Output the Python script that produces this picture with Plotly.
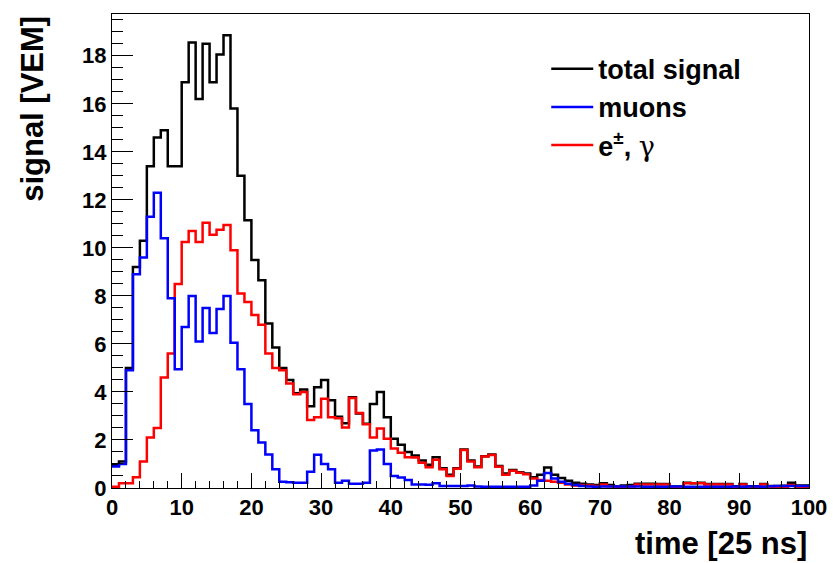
import numpy as np
import plotly.graph_objects as go

# time bins of 25 ns, 0..100
bin_edges = np.arange(0, 101)

total_signal = [
    0.95, 1.1, 5.0, 9.2, 10.3, 13.4, 14.6, 14.9, 13.4, 13.4,
    16.9, 18.55, 16.2, 18.5, 16.9, 18.05, 18.85, 15.8, 13.0, 11.15,
    9.5, 8.65, 6.85, 5.85, 5.0, 4.5, 3.95, 4.1, 3.4, 4.2,
    4.5, 3.65, 2.97, 2.7, 3.78, 3.1, 2.68, 3.5, 4.0, 2.95,
    2.05, 1.8, 1.5, 1.35, 1.15, 0.97, 1.28, 0.82, 0.55, 0.82,
    1.6, 1.15, 0.9, 1.32, 1.4, 0.92, 0.6, 0.75, 0.66, 0.6,
    0.45, 0.55, 0.85, 0.55, 0.42, 0.3, 0.22, 0.18, 0.15, 0.12,
    0.2, 0.12, 0.06, 0.1, 0.12, 0.18, 0.18, 0.18, 0.17, 0.17,
    0.06, 0.06, 0.22, 0.2, 0.22, 0.17, 0.17, 0.17, 0.17, 0.07,
    0.17, 0.07, 0.07, 0.17, 0.08, 0.08, 0.09, 0.22, 0.1, 0.1,
]

muons = [
    0.9, 1.0, 4.9, 8.9, 9.6, 11.3, 12.3, 10.4, 7.9, 4.95,
    6.7, 8.0, 6.1, 7.5, 6.45, 7.45, 8.0, 6.05, 4.95, 3.5,
    2.4, 1.9, 1.4, 0.78, 0.26, 0.24, 0.22, 0.22, 0.68, 1.38,
    1.0, 0.78, 0.22, 0.3, 0.18, 0.18, 0.22, 1.56, 1.6, 1.0,
    0.5, 0.44, 0.33, 0.15, 0.15, 0.14, 0.2, 0.08, 0.08, 0.08,
    0.08, 0.1, 0.06, 0.05, 0.05, 0.05, 0.05, 0.05, 0.05, 0.05,
    0.1, 0.3, 0.62, 0.4, 0.26, 0.18, 0.12, 0.08, 0.06, 0.05,
    0.06, 0.06, 0.06, 0.06, 0.06, 0.06, 0.05, 0.05, 0.05, 0.05,
    0.06, 0.06, 0.05, 0.05, 0.05, 0.05, 0.05, 0.05, 0.05, 0.06,
    0.05, 0.06, 0.06, 0.05, 0.07, 0.08, 0.08, 0.08, 0.08, 0.08,
]

em_component = [
    0.05, 0.2, 0.2, 0.45, 1.1, 2.1, 2.5, 4.6, 5.6, 8.5,
    10.25, 10.7, 10.25, 11.05, 10.55, 10.75, 10.95, 9.9, 8.1, 7.75,
    7.2, 6.8, 5.6, 5.0, 4.9, 4.35, 3.9, 4.0, 2.83, 2.95,
    3.72, 2.95, 2.9, 2.52, 3.75, 3.12, 2.65, 2.1, 2.48, 2.05,
    1.65, 1.47, 1.28, 1.27, 1.05, 0.86, 1.18, 0.78, 0.5, 0.8,
    1.58, 1.1, 0.86, 1.31, 1.37, 0.88, 0.55, 0.72, 0.63, 0.57,
    0.4, 0.33, 0.3, 0.26, 0.22, 0.15, 0.1, 0.12, 0.1, 0.08,
    0.15, 0.07, 0.0, 0.05, 0.06, 0.15, 0.15, 0.15, 0.15, 0.15,
    0.0, 0.02, 0.2, 0.2, 0.2, 0.15, 0.15, 0.15, 0.15, 0.02,
    0.15, 0.02, 0.02, 0.15, 0.02, 0.0, 0.0, 0.12, 0.02, 0.02,
]

em_label = ("e<sup>\u00b1</sup>, "
            "<span style=\"font-family:'DejaVu Serif';font-weight:normal\">\u03b3</span>")

series = [
    ("total signal", total_signal, "#000000"),
    (em_label, em_component, "#ff0000"),
    ("muons", muons, "#0000ff"),
]
legend_rank = {"total signal": 1, "muons": 2}

FONT = "Liberation Sans"

fig = go.Figure()
for name, vals, color in series:
    # step outline: repeat last bin content at the right edge
    y_steps = list(vals) + [vals[-1]]
    fig.add_trace(go.Scatter(
        x=bin_edges, y=y_steps, mode="lines",
        line=dict(shape="hv", color=color, width=2.5),
        name=name, legendrank=legend_rank.get(name, 3),
    ))

axis_common = dict(
    showline=True, linecolor="black", linewidth=1, mirror=True,
    ticks="inside", tickcolor="black", tickwidth=1,
    showgrid=False, zeroline=False, automargin=False,
    tickfont=dict(family=FONT, size=22, color="black", weight="bold"),
)

fig.update_xaxes(range=[0, 100], dtick=10, tick0=0, ticklen=15,
                 minor=dict(dtick=2, ticklen=7, ticks="inside", tickcolor="black"),
                 **axis_common)
fig.update_yaxes(range=[0, 19.74], dtick=2, tick0=0, ticklen=21,
                 minor=dict(dtick=0.5, ticklen=11, ticks="inside", tickcolor="black"),
                 **axis_common)

fig.add_annotation(text="time [25 ns]", xref="paper", yref="paper",
                   x=1.0, y=-0.118, xanchor="right", yanchor="middle",
                   showarrow=False,
                   font=dict(family=FONT, size=31, color="black", weight="bold"))
fig.add_annotation(text="signal [VEM]", xref="paper", yref="paper",
                   x=-0.115, y=1.0, xanchor="center", yanchor="top",
                   textangle=-90, showarrow=False,
                   font=dict(family=FONT, size=31, color="black", weight="bold"))

fig.update_layout(
    width=833, height=563,
    margin=dict(l=112, r=24, t=14, b=75, autoexpand=False),
    paper_bgcolor="white", plot_bgcolor="white",
    showlegend=True,
    legend=dict(x=0.623, y=0.935, xanchor="left", yanchor="top",
                itemwidth=42,
                bgcolor="rgba(0,0,0,0)", borderwidth=0,
                font=dict(family=FONT, size=27, color="black", weight="bold")),
)

fig.write_html("out.html")
